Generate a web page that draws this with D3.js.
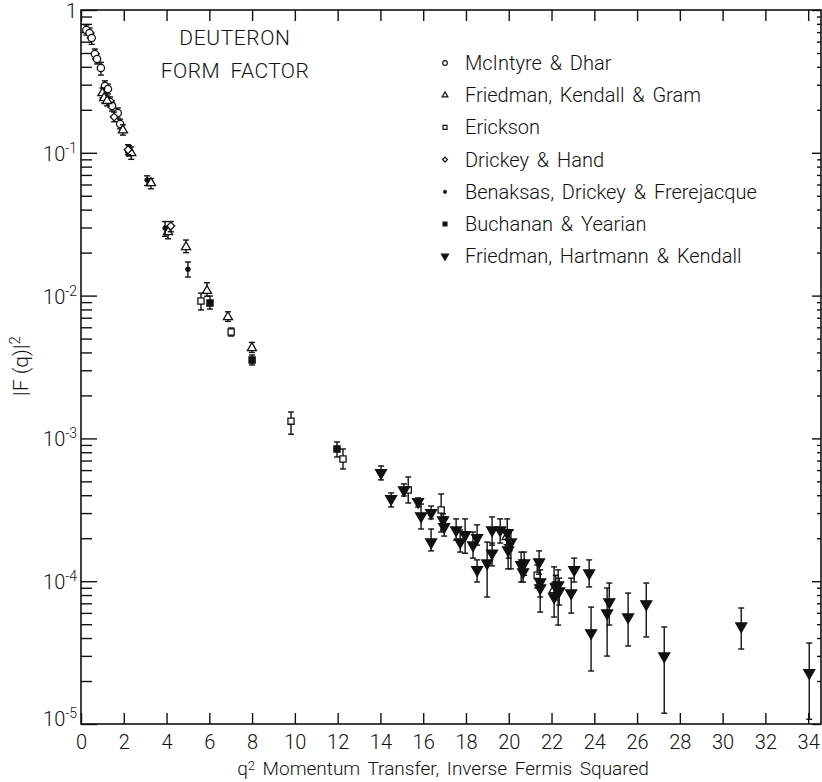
<!DOCTYPE html>
<html>
<head>
<meta charset="utf-8">
<script src="https://cdn.jsdelivr.net/npm/d3@7"></script>
<style>
body { margin: 0; background: #fff; }
svg text { font-family: Roboto, Lato, "DejaVu Sans", sans-serif; font-weight: 300; fill: #111; }
</style>
</head>
<body>
<div class="chart"></div>
<script>
// each point: [q2, |F(q)|^2, lower end of bar, upper end of bar]
const mcintyre = [
  [0.25, 0.724, 0.668, 0.785], [0.40, 0.690, 0.637, 0.748], [0.50, 0.637, 0.575, 0.690],
  [0.65, 0.492, 0.454, 0.533], [0.75, 0.454, 0.419, 0.492], [0.93, 0.393, 0.350, 0.430],
  [1.12, 0.294, 0.271, 0.319], [1.26, 0.280, 0.258, 0.303], [1.36, 0.227, 0.209, 0.246],
  [1.45, 0.213, 0.196, 0.231], [1.72, 0.190, 0.175, 0.206], [1.83, 0.159, 0.147, 0.172],
  [2.25, 0.103, 0.095, 0.112]
];
const fkg = [
  [1.00, 0.262, 0.242, 0.284], [1.08, 0.242, 0.223, 0.262], [1.22, 0.231, 0.213, 0.250],
  [1.96, 0.144, 0.133, 0.157], [2.35, 0.0997, 0.090, 0.110], [3.27, 0.0615, 0.056, 0.066],
  [4.07, 0.0279, 0.025, 0.030], [4.91, 0.0219, 0.020, 0.0245], [5.89, 0.0108, 0.0099, 0.0123],
  [6.87, 0.00708, 0.0066, 0.0077], [7.99, 0.0043, 0.0040, 0.0047],
  [19.9, 0.000204, 0.00018, 0.00023], [22.1, 0.0000868, 0.000078, 0.000097]
];
const erickson = [
  [5.61, 0.00917, 0.00793, 0.0104], [7.02, 0.00556, 0.00521, 0.00593],
  [9.82, 0.00132, 0.00107, 0.00153], [12.25, 0.000718, 0.000611, 0.000843],
  [15.3, 0.000435, 0.000353, 0.000537], [16.84, 0.000315, 0.000221, 0.000408],
  [20.0, 0.000171, 0.000145, 0.000194], [21.33, 0.000110, 0.0000896, 0.00013]
];
const drickey = [
  [1.55, 0.178, 0.165, 0.193], [2.20, 0.105, 0.097, 0.114], [4.20, 0.0307, 0.028, 0.033]
];
const benaksas = [
  [3.09, 0.0645, 0.059, 0.069], [3.93, 0.0297, 0.026, 0.033], [5.00, 0.0153, 0.0135, 0.0172]
];
const buchanan = [
  [6.03, 0.00887, 0.00805, 0.00993], [8.00, 0.00354, 0.00327, 0.00384],
  [11.97, 0.000843, 0.000741, 0.000944]
];
const fhk = [
  [14.03, 0.000573, 0.000512, 0.000641], [14.5, 0.000377, 0.000331, 0.000415],
  [15.1, 0.000435, 0.000395, 0.00048], [15.76, 0.000359, 0.000331, 0.000383],
  [15.9, 0.000286, 0.000232, 0.000347], [16.37, 0.000301, 0.000273, 0.000336],
  [16.37, 0.000188, 0.000163, 0.000232], [16.93, 0.000268, 0.000228, 0.000296],
  [16.98, 0.00024, 0.000207, 0.000282], [17.54, 0.000228, 0.000194, 0.000273],
  [17.73, 0.000188, 0.00016, 0.000228], [17.96, 0.000211, 0.000157, 0.000273],
  [18.33, 0.000179, 0.000145, 0.000221], [18.52, 0.000201, 0.000179, 0.000248],
  [18.52, 0.00012, 0.0000987, 0.000141], [18.99, 0.000134, 0.0000775, 0.000188],
  [19.22, 0.000228, 0.000179, 0.000282], [19.22, 0.000157, 0.000128, 0.000185],
  [19.6, 0.000228, 0.000185, 0.000273], [19.93, 0.000218, 0.000173, 0.000273],
  [20.1, 0.000188, 0.000122, 0.000228], [19.97, 0.000165, 0.000122, 0.000194],
  [20.58, 0.00013, 0.0000987, 0.00016], [20.72, 0.000134, 0.00011, 0.00016],
  [20.67, 0.000116, 0.0000987, 0.000141], [21.42, 0.000136, 0.000112, 0.000163],
  [21.47, 0.0000987, 0.0000775, 0.00012], [21.47, 0.0000896, 0.0000608, 0.0000987],
  [22.12, 0.0000775, 0.0000561, 0.000126], [22.2, 0.0000911, 0.0000738, 0.00011],
  [22.31, 0.000094, 0.0000493, 0.00012], [22.36, 0.0000853, 0.0000681, 0.000105],
  [22.92, 0.0000826, 0.0000598, 0.000105], [23.06, 0.00012, 0.0000987, 0.000145],
  [23.76, 0.000114, 0.0000911, 0.000141], [23.85, 0.0000434, 0.0000235, 0.0000659],
  [24.6, 0.0000598, 0.0000299, 0.0000896], [24.7, 0.0000715, 0.0000493, 0.0000971],
  [25.58, 0.0000561, 0.0000352, 0.0000826], [26.43, 0.0000692, 0.0000407, 0.0000971],
  [27.27, 0.0000299, 0.0000119, 0.0000478], [30.87, 0.0000485, 0.0000335, 0.0000649],
  [34.05, 0.0000228, 0.0000108, 0.0000369]
];

const seriesNames = ["McIntyre & Dhar", "Friedman, Kendall & Gram", "Erickson", "Drickey & Hand",
  "Benaksas, Drickey & Frerejacque", "Buchanan & Yearian", "Friedman, Hartmann & Kendall"];
const xTicks = d3.range(0, 35, 2);
const yExponents = [0, -1, -2, -3, -4, -5];

// marker looks, same order as seriesNames
const looks = [
  {type: d3.symbolCircle, size: 42, fill: "#fff", rot: 0},
  {type: d3.symbolTriangle, size: 36, fill: "#fff", rot: 0},
  {type: d3.symbolSquare, size: 38, fill: "#fff", rot: 0},
  {type: d3.symbolSquare, size: 30, fill: "#fff", rot: 45},
  {type: d3.symbolCircle, size: 14, fill: "#111", rot: 0},
  {type: d3.symbolSquare, size: 38, fill: "#111", rot: 0},
  {type: d3.symbolTriangle, size: 52, fill: "#111", rot: 180}
];
const allData = [mcintyre, fkg, erickson, drickey, benaksas, buchanan, fhk];

var margin = {top: 10, right: 1, bottom: 58, left: 81};
var width = 822 - margin.left - margin.right,
    height = 782 - margin.top - margin.bottom;

const svg = d3.select(".chart").append("svg")
    .attr("width", 822)
    .attr("height", 782)
  .append("g")
    .attr("transform", "translate(" + margin.left + "," + margin.top + ")");

const xScale = d3.scaleLinear().domain([0, 34.6]).range([0, width]);
const yScale = d3.scaleLog().domain([1e-5, 1]).range([height, 0]);

const majors = yExponents.map(e => Math.pow(10, e));
const minors = [];
majors.slice(1).forEach(d => { for (let m = 2; m <= 9; m++) minors.push(d * m); });

function ticks(g) {
  g.select(".domain").remove();
  g.selectAll(".tick line").attr("stroke", "#111").attr("stroke-width", 1.4);
}

svg.append("g").call(d3.axisLeft(yScale).tickValues(minors).tickSize(-11).tickFormat("")).call(ticks);
svg.append("g").call(d3.axisLeft(yScale).tickValues(majors).tickSize(-16).tickFormat("")).call(ticks);
svg.append("g").attr("transform", `translate(${width},0)`)
    .call(d3.axisRight(yScale).tickValues(minors).tickSize(-4).tickFormat("")).call(ticks);
svg.append("g").attr("transform", `translate(${width},0)`)
    .call(d3.axisRight(yScale).tickValues(majors).tickSize(-9).tickFormat("")).call(ticks);
svg.append("g").call(d3.axisTop(xScale).tickValues(xTicks).tickSize(-11).tickFormat("")).call(ticks);

svg.append("g")
    .attr("transform", `translate(0,${height})`)
    .call(d3.axisBottom(xScale).tickValues(xTicks).tickSizeInner(-11).tickSizeOuter(0).tickPadding(11))
    .call(ticks)
    .call(g => g.selectAll(".tick text").style("font-size", "20px").attr("fill", "#111"));

svg.append("rect")
    .attr("width", width).attr("height", height)
    .attr("fill", "none").attr("stroke", "#111").attr("stroke-width", 1.6);

// y labels 1, 10^-1 ...
yExponents.forEach((e, i) => {
  const t = svg.append("text")
      .attr("x", -4)
      .attr("y", yScale(Math.pow(10, e)) + (i == yExponents.length - 1 ? 2 : 8))
      .attr("text-anchor", "end")
      .style("font-size", "20px");
  if (e == 0) { t.text("1"); return; }
  t.append("tspan").text("10");
  t.append("tspan").attr("dy", -8).style("font-size", "14px").text(e);
});

// error bars + markers
allData.forEach((data, i) => {
  const look = looks[i];
  const g = svg.append("g");
  const bars = g.selectAll(".bar").data(data).enter().append("g")
      .attr("stroke", "#111").attr("stroke-width", 1.4);
  bars.append("line")
      .attr("x1", d => xScale(d[0])).attr("x2", d => xScale(d[0]))
      .attr("y1", d => yScale(d[2])).attr("y2", d => yScale(d[3]));
  [2, 3].forEach(k => bars.append("line")
      .attr("x1", d => xScale(d[0]) - 3).attr("x2", d => xScale(d[0]) + 3)
      .attr("y1", d => yScale(d[k])).attr("y2", d => yScale(d[k])));
  g.selectAll(".pt").data(data).enter().append("path")
      .attr("d", d3.symbol().type(look.type).size(look.size))
      .attr("transform", d => `translate(${xScale(d[0])},${yScale(d[1])}) rotate(${look.rot})`)
      .attr("fill", look.fill)
      .attr("stroke", "#111").attr("stroke-width", 1.3);
});

// legend
const legend = svg.append("g").attr("transform", "translate(364,53)");
seriesNames.forEach((name, i) => {
  const look = looks[i];
  legend.append("path")
      .attr("d", d3.symbol().type(look.type).size(look.size * 0.4))
      .attr("transform", `translate(0,${i * 32.2}) rotate(${look.rot})`)
      .attr("fill", look.fill).attr("stroke", "#111").attr("stroke-width", 1.2);
  legend.append("text")
      .attr("x", 20).attr("y", i * 32.2 + 7)
      .style("font-size", "20px")
      .style("word-spacing", "3px")
      .text(name);
});

// titles
svg.append("text").attr("x", 154).attr("y", 35).attr("text-anchor", "middle")
    .style("font-size", "21px").style("letter-spacing", "0.6px").text("DEUTERON");
svg.append("text").attr("x", 154).attr("y", 68).attr("text-anchor", "middle")
    .style("font-size", "21px").style("letter-spacing", "0.4px").style("word-spacing", "5px").text("FORM FACTOR");

const xt = svg.append("text").attr("x", 362).attr("y", height + 51)
    .attr("text-anchor", "middle").style("font-size", "19px").style("word-spacing", "3px");
xt.append("tspan").text("q");
xt.append("tspan").attr("dy", -5).style("font-size", "13px").text("2");
xt.append("tspan").attr("dy", 5).text(" Momentum Transfer, Inverse Fermis Squared");

const yt = svg.append("text")
    .attr("transform", `translate(-53,${356}) rotate(-90)`)
    .attr("text-anchor", "middle").style("font-size", "21px");
yt.append("tspan").text("|F (q)|");
yt.append("tspan").attr("dy", -8).style("font-size", "15px").text("2");
</script>
</body>
</html>
